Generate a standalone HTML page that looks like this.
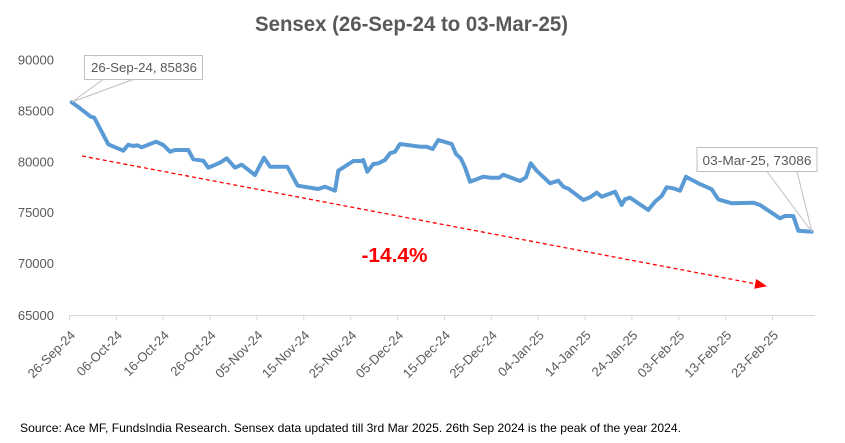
<!DOCTYPE html>
<html>
<head>
<meta charset="utf-8">
<style>
  html,body{margin:0;padding:0;background:#fff;}
  svg{display:block;}
  text{font-family:"Liberation Sans", sans-serif;}
</style>
</head>
<body>
<svg width="845" height="443" viewBox="0 0 845 443" xmlns="http://www.w3.org/2000/svg">
  <rect x="0" y="0" width="845" height="443" fill="#ffffff"/>

  <!-- Title -->
  <text x="411.5" y="31" text-anchor="middle" font-size="21" font-weight="bold" fill="#595959" textLength="313" lengthAdjust="spacingAndGlyphs">Sensex (26-Sep-24 to 03-Mar-25)</text>

  <!-- Y axis labels -->
  <g font-size="13" fill="#595959" text-anchor="end">
    <text x="54" y="64.5">90000</text>
    <text x="54" y="115.5">85000</text>
    <text x="54" y="166.5">80000</text>
    <text x="54" y="217">75000</text>
    <text x="54" y="268">70000</text>
    <text x="54" y="320">65000</text>
  </g>

  <!-- X axis -->
  <line x1="69" y1="315.5" x2="815" y2="315.5" stroke="#d9d9d9" stroke-width="1"/>
  <g stroke="#d9d9d9" stroke-width="1">
    <line x1="69.5" y1="315" x2="69.5" y2="320"/>
    <line x1="116.4" y1="315" x2="116.4" y2="320"/>
    <line x1="163.2" y1="315" x2="163.2" y2="320"/>
    <line x1="210.1" y1="315" x2="210.1" y2="320"/>
    <line x1="257" y1="315" x2="257" y2="320"/>
    <line x1="303.8" y1="315" x2="303.8" y2="320"/>
    <line x1="350.7" y1="315" x2="350.7" y2="320"/>
    <line x1="397.6" y1="315" x2="397.6" y2="320"/>
    <line x1="444.5" y1="315" x2="444.5" y2="320"/>
    <line x1="491.3" y1="315" x2="491.3" y2="320"/>
    <line x1="538.2" y1="315" x2="538.2" y2="320"/>
    <line x1="585.1" y1="315" x2="585.1" y2="320"/>
    <line x1="631.9" y1="315" x2="631.9" y2="320"/>
    <line x1="678.8" y1="315" x2="678.8" y2="320"/>
    <line x1="725.7" y1="315" x2="725.7" y2="320"/>
    <line x1="772.5" y1="315" x2="772.5" y2="320"/>
  </g>

  <!-- X labels -->
  <g font-size="13" fill="#595959" text-anchor="end">
    <text transform="translate(76,336) rotate(-45)">26-Sep-24</text>
    <text transform="translate(122.9,336) rotate(-45)">06-Oct-24</text>
    <text transform="translate(169.7,336) rotate(-45)">16-Oct-24</text>
    <text transform="translate(216.6,336) rotate(-45)">26-Oct-24</text>
    <text transform="translate(263.5,336) rotate(-45)">05-Nov-24</text>
    <text transform="translate(310.3,336) rotate(-45)">15-Nov-24</text>
    <text transform="translate(357.2,336) rotate(-45)">25-Nov-24</text>
    <text transform="translate(404.1,336) rotate(-45)">05-Dec-24</text>
    <text transform="translate(451,336) rotate(-45)">15-Dec-24</text>
    <text transform="translate(497.8,336) rotate(-45)">25-Dec-24</text>
    <text transform="translate(544.7,336) rotate(-45)">04-Jan-25</text>
    <text transform="translate(591.6,336) rotate(-45)">14-Jan-25</text>
    <text transform="translate(638.4,336) rotate(-45)">24-Jan-25</text>
    <text transform="translate(685.3,336) rotate(-45)">03-Feb-25</text>
    <text transform="translate(732.2,336) rotate(-45)">13-Feb-25</text>
    <text transform="translate(779,336) rotate(-45)">23-Feb-25</text>
  </g>

  <!-- Trend dashed arrow -->
  <line x1="82" y1="156" x2="755.5" y2="283.8" stroke="#ff0000" stroke-width="1.3" stroke-dasharray="4,3"/>
  <polygon points="767,286.2 756.1,279 754.3,288.8" fill="#ff0000"/>

  <!-- Sensex line -->
  <polyline fill="none" stroke="#5b9bd5" stroke-width="4" stroke-linejoin="round" stroke-linecap="round"
    points="71.7,102.3 80,108.3 90.7,116.7 94.3,117.7 108.3,144.3 123.3,150.7 128.3,144.7 132.7,146 137.3,145.3 141.7,147.3 156,141.7 163.3,145 170,151.7 175,150 188.3,150 193.3,159.3 203.3,160.7 208.3,167.7 220,162.7 226.7,158.3 235,167.7 241.7,164.7 255,175 264,157.7 270,166.7 287.3,166.7 297.7,185.7 318.3,189 325,186.7 335,190.7 338.3,170.7 353.3,161 361.7,161 363.3,160 367.3,171.7 373.3,164 378.3,163.3 385,160 390,153.3 395,151.7 400,144 420,146.7 426.7,146.7 432.7,149 438.3,140 451.7,144 456,154 460.7,158.3 465,167.3 470,181.7 483.3,176.7 490,177.7 499.3,177.7 503.3,174.7 520,181 526,177.3 530.7,163.3 536.7,170.7 550,183.3 558.3,180.7 563.3,186.7 568.3,188.7 583.3,200 590,197.3 596.7,192.7 601.7,196.7 615,191.7 621.7,205 625,199.3 630,197.7 648.3,210 655,201.7 661.7,196 666.7,187.3 673.3,188.3 680,190.7 686,176.7 698.3,183.3 711.7,189.3 718.3,199.3 731.7,203.3 753.3,202.7 760,205 780,218.3 785,216 793.3,216 798.3,230.7 811.7,231.7"/>

  <!-- Callout 1 -->
  <line x1="103" y1="79.5" x2="72" y2="102" stroke="#bfbfbf" stroke-width="1"/>
  <line x1="133" y1="79.5" x2="72" y2="102" stroke="#bfbfbf" stroke-width="1"/>
  <rect x="84.5" y="55.5" width="118" height="24" fill="#ffffff" stroke="#bfbfbf" stroke-width="1"/>
  <text x="144" y="72" text-anchor="middle" font-size="13" fill="#595959" textLength="106" lengthAdjust="spacingAndGlyphs">26-Sep-24, 85836</text>

  <!-- Callout 2 -->
  <line x1="767" y1="171.5" x2="812" y2="232" stroke="#bfbfbf" stroke-width="1"/>
  <line x1="797" y1="171.5" x2="812" y2="232" stroke="#bfbfbf" stroke-width="1"/>
  <rect x="697" y="147.5" width="120" height="24" fill="#ffffff" stroke="#bfbfbf" stroke-width="1"/>
  <text x="757" y="165" text-anchor="middle" font-size="13" fill="#595959" textLength="109" lengthAdjust="spacingAndGlyphs">03-Mar-25, 73086</text>

  <!-- -14.4% -->
  <text x="394.5" y="262" text-anchor="middle" font-size="20" font-weight="bold" fill="#ff0000" textLength="66" lengthAdjust="spacingAndGlyphs">-14.4%</text>

  <!-- Source -->
  <text x="20" y="432" font-size="12" fill="#000000" textLength="661" lengthAdjust="spacingAndGlyphs">Source: Ace MF, FundsIndia Research. Sensex data updated till 3rd Mar 2025. 26th Sep 2024 is the peak of the year 2024.</text>
</svg>
</body>
</html>
